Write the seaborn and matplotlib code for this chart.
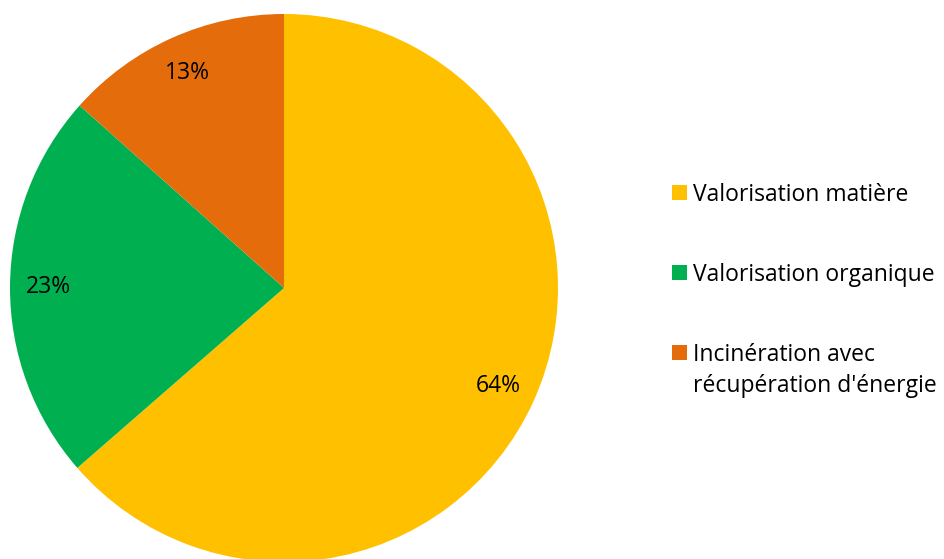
import matplotlib.pyplot as plt
import seaborn as sns
from matplotlib.patches import Rectangle

# === DATA ===
categories = ['Valorisation matière', 'Valorisation organique',
              "Incinération avec\nrécupération d'énergie"]
shares = [63.6, 23.0, 13.4]
colors = ['#FFC000', '#00B050', '#E46C0A']

sns.set_theme(style="white")
plt.rcParams['font.family'] = ['Open Sans', 'DejaVu Sans']
FS = 16.5

fig = plt.figure(figsize=(9.44, 5.59), dpi=100)
# pie centred at (284, 288) px, radius 274 px
ax = fig.add_axes([10 / 944, -3 / 559, 548 / 944, 548 / 559])
wedges, texts, autotexts = ax.pie(
    shares, colors=colors, startangle=90, counterclock=False,
    autopct='%1.0f%%', pctdistance=0.86, radius=1,
    wedgeprops={'linewidth': 0},
    textprops={'fontsize': FS, 'color': 'black'})
ax.set_xlim(-1, 1)
ax.set_ylim(-1, 1)
ax.set_aspect('equal')

# legend drawn by hand so the marker sits on the first text line
W, H = 944, 559
baselines = [200, 280, 360]
for label, color, b in zip(categories, colors, baselines):
    fig.patches.append(Rectangle((672 / W, 1 - b / H), 15 / W, 15 / H,
                                 transform=fig.transFigure, facecolor=color,
                                 edgecolor='none'))
    fig.text(693 / W, 1 - (b - 17) / H, label, fontsize=FS, va='top',
             ha='left', linespacing=1.4, color='black')

plt.savefig('out.png', dpi=100)
plt.close()
